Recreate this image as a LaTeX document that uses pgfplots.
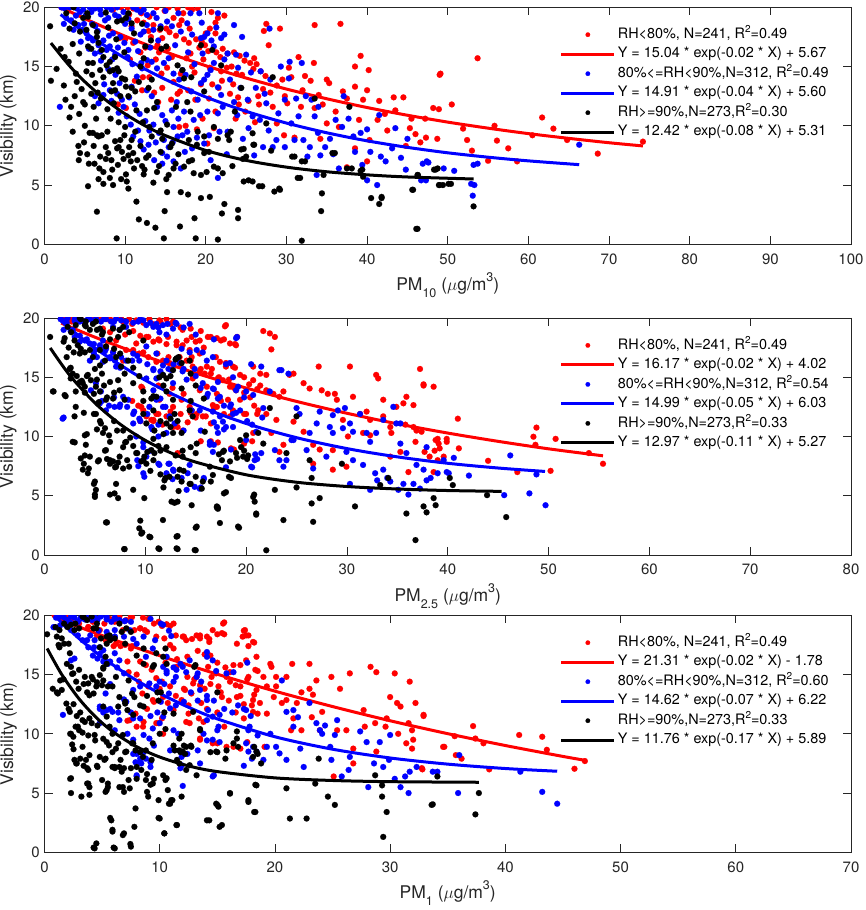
\documentclass[border=0pt]{standalone}
\usepackage{fontspec}
\setmainfont{TeX Gyre Heros}
\usepackage{pgfplots}
\pgfplotsset{compat=1.18}
\definecolor{axgray}{rgb}{0.15,0.15,0.15}
\newcommand{\lsub}[1]{\raisebox{-7pt}{\fontsize{12.5}{14}\selectfont #1}}
\newcommand{\lsup}[1]{\raisebox{9pt}{\fontsize{12.5}{14}\selectfont #1}}
\newcommand{\Rsq}{R\raisebox{5.5pt}{\fontsize{10}{12}\selectfont 2}}
\pgfplotsset{
  base/.style={
    scale only axis, width=806.5pt, height=237pt,
    ymin=0, ymax=20, ytick={0,5,10,15,20},
    tick align=inside, major tick length=8pt, tick pos=both,
    axis line style={line width=0.8pt, draw=axgray},
    every tick/.style={line width=0.8pt, draw=axgray},
    ticklabel style={font=\fontsize{15}{18}\selectfont, text=axgray},
    xticklabel style={anchor=north, inner sep=0pt, yshift=-9pt},
    yticklabel style={anchor=east, inner sep=0pt, xshift=-4.5pt},
    /pgf/number format/assume math mode=true,
    label style={font=\fontsize{17.5}{21}\selectfont, text=axgray},
    ylabel style={at={(axis description cs:-0.0446,0.5)}, anchor=center},
    xlabel style={at={(axis description cs:0.5,-0.195)}, anchor=base},
    ylabel={Visibility (km)},
    clip marker paths=true,
    legend cell align=left,
    legend style={draw=none, fill=none, at={(0.639,0.915)}, anchor=north west,
      inner sep=0pt, outer sep=0pt, row sep=5pt,
      font=\fontsize{14.4}{17}\selectfont,
      nodes={inner xsep=2pt, inner ysep=0pt, text height=11pt, text depth=3.5pt}},
  },
  dotsty/.style={only marks, mark=*, mark size=3pt, mark options={line width=0.1pt},
    legend image code/.code={\draw[##1,mark size=2.3pt] plot coordinates {(26.5pt,0pt)};}},
  fitsty/.style={no marks, line width=3pt, smooth,
    legend image code/.code={\draw[##1] (0pt,0pt) -- (53pt,0pt);}},
}
\begin{document}
\begin{tikzpicture}
\useasboundingbox (0,0) rectangle (865pt,910pt);
\fill[white] (0,0) rectangle (865pt,910pt);
% ---------------- Panel 1 : PM10
\begin{axis}[base, at={(44.5pt,665.7pt)}, anchor=south west,
  xmin=0, xmax=100, xtick={0,10,...,100},
  xlabel={PM\lsub{10} ($\mu$g/m\lsup{3})}]
\addplot[dotsty, color=red] coordinates {
(2.1,20)(8.5,19.8)(11,19.9)(12,19.5)(14.9,19.7)(16.5,19.9)(17.2,19.5)(18.3,19.8)(16,19.1)(17,18.9)(13,19.2)(10.5,19.4)(11.5,18.9)(12.3,18.7)(13.5,18.5)(14.3,18.1)(15.1,18.2)(16.7,18.5)(18,18.2)(20,17.8)(20.5,18.2)(21.2,18.7)(21.5,19.1)(22.3,19.3)(21.2,17.8)(19.5,17.1)(15.5,17.9)(13.2,17.5)(11,17)(10,17.3)(9.3,17.4)(12.5,16.6)(14.2,16.2)(15.8,15.8)(17.6,15.7)(18.1,16.1)(19.7,15.6)(20.3,16.3)(21.3,16.2)(22.1,16.5)(22.7,16.1)(23.5,16.2)(24.8,15.5)(25.5,15.3)(26,15.7)(26.3,15.2)(27.5,18.6)(27.2,18.0)(29.2,18.2)(31.5,15.8)(33.5,18.5)(36.7,18.6)(38.5,15)(39.2,15.9)(40.2,14.7)(43.3,12.4)(44.5,12.4)(49,14.3)(48.9,11.4)(41.5,12.1)(40,13)(38.5,13.3)(39.5,12.2)(37.5,12.3)(35.3,13.6)(35,13.9)(33,13.8)(33.4,15.3)(32.3,14.2)(30.3,14.9)(30.6,14.1)(29.5,13.9)(28.8,13.4)(28,12.8)(27.1,13.1)(26.5,12.5)(25.3,12.1)(24,12.4)(23.4,13.5)(23,12.7)(22,13.8)(21.6,13.2)(20.8,13.5)(20.4,12.3)(19.4,13.5)(18.6,14.5)(17.8,13)(16.8,12.9)(16.5,12.7)(15.7,12.2)(16,13.7)(14.6,13.2)(13.6,12.8)(13,14.1)(12.2,14.1)(11.2,13.8)(10.1,11.5)(9.1,11.8)(16.7,9.9)(17.5,10)(18.9,9.7)(20.2,8.5)(21,9.8)(19.6,10.6)(24.1,11.8)(24.9,11.2)(26.6,11.8)(28.8,10.2)(29.7,9.2)(31,9)(33.5,11.5)(34.2,8.9)(35,10.2)(36.5,9.9)(37.5,6.5)(38.5,8.1)(39,10.5)(40,7)(40.3,8.8)(41.3,10.5)(42.2,11)(43.5,11.3)(44.8,8.3)(45.3,9.8)(46,9.3)(47.3,9.0)(45.5,10.6)(53.7,15.7)(49.1,14.4)(48.2,11.5)(47.2,10.6)(48.7,8.9)(51.9,9.76)(53.0,7.9)(55,7.05)(55.8,10.0)(56.1,8.75)(58.6,7.0)(60.5,9.2)(61.7,10.7)(63.1,9.76)(68.6,7.65)(74.2,8.66)(9.5,20)(10.3,20)(13.9,20)(15.4,20)(17.8,20)(19,19.9)(20.7,19.6)(11.8,19.9)(14,16.8)(18.8,17.3)(19.2,16.6)(23.8,14.4)(21.9,14.6)(20.5,14.9)(22.6,14.9)(26.8,14.6)(24.5,14.3)(27.8,16.8)(34.5,11.8)(37,12.9)(29.8,12.5)(31.8,11.6)(14.5,14.4)(12.8,15.1)(15.3,16.5)(17.3,17.3)
(10.8,18.4)(12.9,18.0)(14.6,17.4)(16.3,17.6)(17.9,17.0)(19.9,16.8)(21.8,15.8)(23.2,15.0)(24.2,15.9)(25.9,14.8)(27.4,14.2)(18.3,15.0)(16.9,14.4)(15.2,14.9)(13.8,15.6)(11.9,16.2)(10.6,15.6)(12.1,13.0)(14.1,12.0)(18.7,12.2)(21.2,11.2)(23.7,10.6)(26.1,10.3)(28.3,11.6)(30.1,11.9)(32,13)(34,12.6)(36.1,11.2)(42.5,9.6)(46.6,8.6)(50.5,11.8)(52.4,8.8)(57.5,8.1)(64.8,8.8)
};
\addlegendentry{RH<80\%, N=241, \Rsq=0.49}
\addplot[fitsty, color=red] coordinates {(2,20.02)(5,19.04)(10,17.56)(15,16.24)(20,15.07)(25,14.03)(30,13.10)(35,12.28)(40,11.54)(45,10.89)(50,10.31)(55,9.80)(60,9.34)(65,8.94)(70,8.57)(74.2,8.30)};
\addlegendentry{Y = 15.04 * exp(-0.02 * X) + 5.67}
\addplot[dotsty, color=blue] coordinates {
(2.1,20)(2.5,19.9)(3.1,20)(4,19.9)(4.4,19.6)(4.8,19.8)(5.6,20)(6.25,19.9)(6.9,19.8)(7.7,20)(8.3,19.8)(9,20)(8.75,19.35)(11,20)(11.45,19.8)(11.9,19.6)(12.3,19.8)(12.7,19.35)(13.5,19.5)(18.1,19.5)(19.2,19.5)(21.5,19.5)(2.7,19.1)(3.3,18.9)(4.2,18.5)(4.7,18.1)(5.2,17.8)(5.4,17.4)(6,17.2)(6.7,16.8)(6.25,16.1)(6.9,16.25)(7.3,17.2)(7.7,16.4)(8.1,16.7)(8.75,16.0)(8.5,17.8)(9.4,17.5)(9.9,17.0)(10.4,16.4)(11.25,17.1)(11.9,17.7)(12.3,17.95)(12.7,18.5)(13.5,18.1)(14.4,18.4)(15.2,18.8)(15.8,18.4)(16.9,17.95)(17.7,18.65)(18.3,17.7)(19.4,17.4)(19.8,17.5)(20.2,17.8)(20.7,17.2)(21.9,17.4)(21,16.7)(22.7,16.1)(23.75,16.0)(25,16.0)(1.9,11.6)(6.25,12.5)(6.7,11.9)(7.3,12.6)(8.1,13.0)(9,12.7)(9.6,12.2)(9.8,11.6)(10.2,10.8)(10.8,13.3)(11.45,14.15)(12.1,14.85)(12.7,15.55)(13.3,15.4)(13.95,14.85)(14.8,15.3)(15.4,15.7)(16,14.4)(16.7,13.9)(17.1,14.7)(17.5,14.3)(12.7,13.0)(13.3,12.5)(13.95,11.6)(14.6,10.9)(13.5,10.1)(14.8,8.8)(15.4,8.2)(16,9.9)(16.5,9.1)(17.1,9.2)(17.7,9.5)(18.3,8.1)(14.6,7.7)(15.2,7.4)(14.6,6.8)(16,7.0)(16.9,6.4)(12.3,8.0)(11.9,8.7)(11,9.1)(19,12.2)(19.4,13.6)(19.8,13.9)(20.2,14.3)(20.6,14.7)(21,15.3)(21.5,13.25)(21.9,12.6)(21.5,11.05)(22.1,11.6)(20.2,11.2)(20.4,9.2)(19.8,8.5)(21.7,9.5)(20.6,7.1)(21.5,5.6)(22.7,9.5)(23.5,12.0)(24.3,13.2)(25.2,12.2)(25.3,9.8)(25.8,10.8)(26,7.5)(26.7,10.5)(26.8,14.6)(27.1,8.2)(27.5,11.9)(27.9,18.2)(28.3,8.2)(28.75,8.8)(29,11.05)(29.3,15.0)(29.8,12.2)(29.8,8.2)(30.3,14.0)(30.4,15.4)(30.6,10.2)(31,8.8)(31.5,10.8)(31.9,15.3)(32.1,8.8)(32.4,12.5)(32.6,7.4)(32.9,8.2)(33.1,12.2)(33.5,10.8)(33.75,5.85)(33.96,11.6)(34.2,7.5)(34.8,8.2)(35.4,8.9)(36.1,10.5)(36.5,6.4)(36.9,9.9)(37.1,12.5)(37.7,10.6)(38.5,7.8)(39.2,9.4)(39.4,6.7)(40,9.7)(40,5.4)(40.4,7.8)(41.25,5.0)(41.5,10.9)(41.7,7.4)(42.3,7.0)(43.5,9.8)(45,8.9)(44.8,6.3)(46.7,5.4)(46.9,6.8)(47.4,7.0)(66.3,8.4)(53.2,6.7)(53.7,6.8)(47.6,6.9)(47.3,5.4)(52.9,5.1)(53.3,5.0)(53.1,4.1)(49.5,6.4)(5.5,16.5)(7,15.5)(7.9,14.8)(8.8,14.3)(9.3,13.6)(10.5,12.4)(11.2,11.8)(11.8,11.0)(12.5,10.4)(13.0,9.6)(13.8,8.6)(14.2,9.4)(15,10.4)(15.8,11.3)(16.4,12)(17.3,11.2)(18.5,10.5)(8.4,15.6)(10.9,15.2)(11.6,16.3)(13.1,16.6)(14.1,17.2)(16.2,16.8)(17.8,16.2)(18.6,15.2)(19.6,16.1)(22.3,15.6)(23,13.9)(24,14.9)(25.6,14.5)(26.2,13.2)(27.3,12.7)(28,13.9)(4.5,17.1)(3.6,18.1)(5.9,18.6)(6.6,18.0)(7.5,18.9)(10,18.6)(10.8,18.2)(9.2,19.2)(7,19.4)(5.1,19.3)(13.9,19.1)(15,19.7)(16.6,19.5)(19.5,18.7)(23.5,18.5)(24.5,17.5)(21.3,18.3)(22.3,17.7)
(3.9,19.3)(5.8,19.6)(7.9,19.1)(9.8,19.6)(10.4,19.0)(2.4,18.6)(4.9,18.6)(6.3,18.4)(8,17.6)(9.1,16.6)(10.3,15.8)(12,15.3)(7.4,13.5)(8.3,12.1)(9.2,11.1)(10.7,10.1)(11.6,9.6)(12.9,8.4)(13.6,7.1)(15.9,8.6)(17.4,7.8)(18.9,9.0)(19.3,10.9)(18.2,12.9)(16.6,10.6)(23.9,10.9)(24.6,8.9)(22.6,7.6)(27.8,9.6)(31.2,12.3)(33.9,9.4)(35.8,7.6)(38.3,9.1)(43.1,8.1)(44.2,7.3)(50.8,6.2)
};
\addlegendentry{80\%<=RH<90\%,N=312, \Rsq=0.49}
\addplot[fitsty, color=blue] coordinates {(2,19.39)(5,17.87)(10,15.70)(15,13.91)(20,12.43)(25,11.22)(30,10.23)(35,9.41)(40,8.73)(45,8.18)(50,7.72)(55,7.35)(60,7.04)(66.3,6.72)};
\addlegendentry{Y = 14.91 * exp(-0.04 * X) + 5.60}
\addplot[dotsty, color=black] coordinates {
(0.7,18.4)(0.8,13.8)(2.5,15.8)(2.4,13.4)(3,15.4)(3.3,11.6)(3.5,9.5)(3.75,12.5)(4,13.7)(4.2,8.3)(4.25,7.1)(4.4,7.7)(5.4,4.9)(5,10)(4.8,12)(5,11.8)(5.4,15.3)(5.2,14.6)(5.5,6.8)(5.6,9.4)(6,9.4)(6.2,6.8)(6.5,2.75)(6.7,5.5)(6.9,7.4)(6.4,10.6)(6.5,9.2)(6.7,9.1)(7.1,9.2)(7.3,6.1)(7.3,5.1)(7.6,8.2)(7.8,9.5)(8.1,5.6)(7.9,7.7)(8.3,7.1)(8.5,5.0)(8.95,0.5)(9,8.1)(8.75,8.7)(9.2,8.2)(9.4,8.8)(9.6,7.8)(9.8,7.2)(9.9,9.2)(10,9.9)(10.1,5.9)(10.2,5.3)(10.4,4.7)(10.4,7.5)(10.5,8.2)(10.7,7.0)(10.8,8.8)(11,7.7)(11.25,9.5)(11.4,3.6)(11.5,7.1)(11.7,2.1)(11.9,8.3)(12.1,6.6)(12.3,5.9)(12.4,6.3)(12.7,1.8)(12.9,7.5)(13.0,9.9)(13.3,9.1)(13.75,1.4)(13.95,6.1)(14.2,6.6)(14.4,7.8)(14.8,0.5)(14.9,2.8)(15.1,5.5)(15.2,4.4)(15.4,5.85)(15.6,8.2)(15.8,8.5)(16,6.4)(16.25,6.8)(16.8,1.5)(16.9,4.4)(17.3,6.55)(17.8,4.2)(17.9,7.0)(18.3,7.1)(18.5,6.0)(18.6,2.2)(18.75,0.5)(19.4,3.9)(19.4,5.85)(19.8,7.7)(20.5,4.0)(20.4,7.8)(21.0,6.55)(21.5,6.4)(21.5,0.4)(22,2.6)(22.1,6.0)(22.3,3.4)(22.7,9.2)(22.9,8.8)(24,2.9)(24.0,2.2)(24.4,8.0)(24.7,5.3)(25,7.4)(25.8,5.3)(26,8.4)(27,4.9)(27.5,10.2)(28.5,4.45)(29.2,4.6)(31,7.4)(31.9,0.3)(31.7,5.6)(32.3,7.0)(33.5,12.3)(34.4,4.3)(34.3,2.8)(34.6,5.85)(36,7.7)(37.5,6.4)(37.8,11.6)(38.1,6.4)(39.4,6.3)(39.5,5.7)(40.5,3.9)(41.5,3.4)(41.8,4.0)(45.7,4.6)(46.25,5.85)(46.25,1.3)(48.75,6.4)(49.4,5.0)(50.4,5.1)(3.6,20)(2.7,19.5)(3.1,18.2)(3.75,18.65)(4.4,17.95)(4.8,19.1)(5.3,19.5)(5.4,19.2)(6,18.5)(6.5,17.9)(6.7,17.0)(6.5,17.5)(5.8,16.5)(5.4,16.7)(6,15.3)(7.1,16.4)(7.3,15.8)(6.9,14.7)(7.3,14.1)(7.7,15.1)(8.1,15.4)(8.75,15.8)(8.1,14.6)(8.5,14.7)(9,14.85)(9.2,14.6)(8.5,13.6)(8.75,13.0)(9.6,14.0)(10,13.9)(10.1,13.3)(9.4,12.5)(10.4,12.5)(10.8,13.2)(11.25,12.9)(11.7,13.7)(11.9,15.0)(12.3,15.7)(12.5,16.7)(9,18.8)(9.6,18.9)(10.1,19.1)(10.4,19.5)(10.8,18.65)(7.6,19.55)(12.9,13.2)(13.3,13.9)(13.95,12.0)(14.4,18.2)(14.5,16.5)(15.1,16.7)(13.6,11.5)(12.7,11.3)(14.4,9.6)(15.2,10.1)(16.5,15.1)(17.1,14.7)(17.3,14.0)(17.7,12.0)(18.1,11.2)(18.2,14.1)(17.9,8.8)(19,9.5)(19.4,16.8)(19.8,9.1)(21,9.9)(21.5,8.9)(20.8,16.4)(21.9,15.1)(23.1,9.5)(24.4,13.2)(28.3,14.1)(25.8,9.37)(25.9,8.4)(24.7,8.05)(24.6,7.2)(28.1,7.9)(30.7,7.4)(31.9,7.0)(35.7,7.7)(39.2,6.2)(48.5,6.3)(46.3,5.85)(45.6,4.6)(49.0,5.0)(53.2,3.2)(31.4,5.6)(29.1,4.7)(26.6,4.9)(25.3,5.4)(41.8,3.9)(46.1,1.3)(48.3,6.3)(48.9,5.0)(50.1,5.1)(1.5,14.8)(2,16.5)(3.9,14.4)(4.6,13.1)(5.8,12.7)(6.1,11.6)(7,12.3)(7.8,11.4)(8.2,10.6)(8.6,11.9)(9.2,10.3)(4.3,11)(3.1,10.7)(2.6,12.2)(6.3,13.6)(5.9,14.3)
(4.9,8.6)(5.3,7.6)(6.1,8.3)(6.8,6.4)(7.6,7.2)(8.4,6.3)(9.1,6.7)(9.5,5.5)(11.1,6.4)(12.6,7.3)(13.5,5.2)(14.6,8.9)(16.6,7.6)(18.9,8.4)(20.1,6.1)(23.3,6.6)(3.5,16.9)(4.3,16.1)(5.2,18.1)(7.9,18.3)(8.9,17.3)(9.9,16.2)(11.1,17.8)(13.2,17.2)(12.1,18.6)(6.6,12.8)(8.3,12.9)(11.4,11.3)(12.2,10.3)(16.3,11.6)(19.8,12.9)(23.6,11.2)
};
\addlegendentry{RH>=90\%,N=273,\Rsq=0.30}
\addplot[fitsty, color=black] coordinates {(0.8,16.98)(3,15.14)(5,13.72)(7.5,12.23)(10,11.00)(12.5,9.99)(15,9.17)(20,7.92)(25,7.08)(30,6.51)(35,6.12)(40,5.86)(45,5.68)(53.2,5.51)};
\addlegendentry{Y = 12.42 * exp(-0.08 * X) + 5.31}
\end{axis}
% ---------------- Panel 2 : PM2.5
\begin{axis}[base, at={(44.5pt,355pt)}, anchor=south west,
  xmin=0, xmax=80, xtick={0,10,...,80},
  xlabel={PM\lsub{2.5} ($\mu$g/m\lsup{3})}]
\addplot[dotsty, color=red] coordinates {
(1.66,20)(2.15,19.8)(2.65,19.95)(3.6,19.9)(4.6,20)(5.5,19.95)(6,20)(6.5,19.8)(7.6,19.95)(8.4,19.9)(9.1,19.8)(10.4,19.9)(11.4,19.8)(12.1,19.9)(12.75,19.7)(13.7,19.0)(14.6,18.4)(15.4,18.1)(16.2,18.4)(17.1,18.3)(17.5,18.1)(18.4,17.85)(19.0,17.7)(18.0,19.4)(21.7,18.9)(22.35,18.7)(22.85,18.4)(22.5,17.35)(10.1,18.4)(10.8,18.0)(11.4,18.1)(12.25,18.4)(13.1,18.0)(13.7,17.7)(14.4,17.3)(9.1,17.85)(8.8,17.3)(9.4,17.0)(10.3,16.7)(11.1,16.3)(11.75,16.4)(12.4,16.2)(13.4,16.7)(14.1,16.4)(14.7,15.9)(15.4,15.5)(16.1,15.9)(16.6,15.7)(17.4,16.3)(18.0,16.2)(18.7,15.9)(19.4,15.2)(17.2,14.9)(17.7,14.75)(18.4,14.2)(19.0,13.9)(20.7,15.9)(21.4,15.3)(22.0,15.2)(20.7,14.75)(21.4,14.3)(22.0,13.9)(22.7,13.6)(23.3,13.35)(23.7,13.8)(24.3,15.2)(24.7,15.3)(25.7,14.5)(26.3,14.05)(27.2,15.9)(27.5,13.9)(28.1,13.6)(28.8,13.6)(29.0,13.1)(30.3,15.9)(30.6,13.35)(31.3,11.9)(31.95,12.1)(32.3,11.4)(32.9,15.2)(33.1,14.9)(33.6,13.1)(34.3,10.8)(34.4,10.3)(34.9,12.5)(35.6,12.8)(35.8,11.0)(35.9,13.35)(36.6,10.8)(36.8,9.55)(36.9,10.5)(37.25,15.7)(37.6,14.3)(38.6,14.2)(39.2,9.0)(39.9,9.55)(39.6,8.3)(39.0,8.0)(38.6,7.0)(37.7,8.7)(36.1,7.0)(37.4,10.4)(36.6,12.65)(35.3,8.7)(34.3,8.3)(33.6,11.7)(32.3,10.1)(31.6,10.3)(30.1,10.0)(29.95,7.45)(28.6,7.2)(27.3,8.9)(26.65,9.3)(26.65,7.7)(28.6,8.85)(29.6,11.4)(25.7,10.4)(24.7,11.25)(23.7,9.3)(23.0,11.4)(23.3,8.7)(22.5,10.3)(20.7,10.3)(21.2,12.2)(22.0,11.9)(20.0,11.9)(19.4,13.1)(18.7,12.1)(18.2,13.1)(17.4,13.1)(16.7,12.65)(17.1,13.6)(18.4,11.7)(17.1,12.5)(16.5,11.1)(15.7,11.7)(15.1,11.9)(14.4,12.5)(13.6,13.1)(12.75,12.5)(12.4,13.6)(11.4,13.1)(11.1,11.9)(10.6,11.4)(10.1,11.7)(9.6,14.2)(9.6,12.5)(10.8,11.4)(12.1,11.7)(12.75,10.8)(13.7,10.5)(14.6,12.2)(15.4,13.9)(16.1,14.2)(15.9,15.3)(14.7,14.9)(15.4,17.0)(14.6,16.7)(5.8,19.1)(6.5,18.8)(7.1,18.1)(8.1,17.3)(6.8,17.1)(6.1,17.6)(7.8,16.4)(18.5,9.0)(37.6,14.4)(41.0,11.5)(38.2,8.3)(38.7,8.8)(38.8,9.7)(39.0,9.8)(39.1,9.4)(39.9,9.8)(41.1,9.0)(44.0,7.95)(46.9,7.0)(48.5,9.98)(48.8,10.75)(48.7,9.3)(50.2,7.1)(50.7,9.8)(54.0,8.6)(55.4,7.7)
(1.9,19.9)(2.7,19.7)(5.0,19.7)(6.5,19.9)(7.8,19.7)(8.7,19.5)(9.8,19.6)(10.7,19.5)(11.5,19.7)(12.5,19.5)(13.5,19.2)(14.5,19.1)(15.5,18.9)(16.5,18.4)(17.8,18.2)(17.9,19.3)(19.1,18.4)(18.9,17.8)(15.8,17.5)(15.0,18.0)(14.1,18.1)(13.1,17.7)(12.1,17.8)(11.3,18.2)(10.3,18.4)(9.5,18.5)(8.8,18.9)(8.0,18.6)(9.8,17.1)(11.2,17.0)(12.3,16.7)(13.5,16.1)(14.5,16.4)(15.5,15.7)(16.5,15.3)(17.3,15.0)(18.3,14.8)(18.8,14.1)(19.8,13.7)(20.4,13.3)(21.1,14.0)(20.3,14.4)(19.8,15.0)(18.9,15.8)(18.0,15.9)(17.0,16.7)(17.5,13.0)(16.8,12.4)(17.8,11.9)(18.7,12.2)(19.8,11.9)(20.8,12.6)(21.1,11.9)(16.0,11.7)(15.0,11.6)(14.5,12.0)(13.5,11.9)(12.5,12.1)(11.3,11.9)(9.8,12.2)(9.3,12.6)(8.7,13.0)(9.7,14.1)(11.3,14.3)(12.7,14.1)(13.8,13.6)(10.8,11.3)(11.7,11.0)(13.2,10.8)(14.2,11.2)(15.5,9.6)(16.5,9.6)(17.2,9.5)(18.8,8.9)(19.8,9.4)(20.6,9.6)(13.2,8.6)(9.5,11.3)
};
\addlegendentry{RH<80\%, N=241, \Rsq=0.49}
\addplot[fitsty, color=red] coordinates {(1.66,19.57)(5,18.38)(10,16.78)(15,15.35)(20,14.09)(25,12.96)(30,11.96)(35,11.07)(40,10.29)(45,9.59)(50,8.96)(55.4,8.37)};
\addlegendentry{Y = 16.17 * exp(-0.02 * X) + 4.02}
\addplot[dotsty, color=blue] coordinates {
(1.8,19.8)(2.15,19.6)(2.3,20)(3.0,19.75)(3.5,19.7)(4.0,19.6)(4.3,19.9)(4.8,19.7)(5.1,19.95)(5.6,19.7)(6.1,19.9)(6.6,19.7)(7.1,19.95)(7.6,19.8)(8.1,19.7)(8.8,19.6)(9.3,19.7)(9.8,19.8)(11.1,19.5)(11.75,19.4)(13.1,19.5)(14.4,19.5)(12.75,19.1)(12.1,18.6)(11.4,18.8)(10.8,19.25)(10.1,19.4)(8.1,19.25)(7.45,19.0)(6.8,19.25)(2.8,19.0)(3.5,18.5)(4.0,18.1)(4.5,17.85)(5.0,17.3)(5.5,17.7)(5.8,18.1)(6.1,17.4)(6.8,17.1)(6.5,16.6)(5.8,16.3)(7.1,15.9)(7.6,16.7)(8.1,16.4)(8.8,17.0)(9.4,16.4)(10.1,17.6)(11.1,17.0)(12.1,16.4)(12.6,15.6)(13.4,16.2)(13.7,15.5)(11.75,16.0)(10.8,15.6)(10.1,14.9)(11.1,14.9)(11.75,15.2)(12.75,14.5)(13.6,17.4)(14.4,17.1)(15.1,17.3)(15.7,17.1)(16.1,16.4)(16.7,16.7)(14.9,15.7)(15.7,14.5)(16.7,14.05)(17.4,13.35)(18.4,16.2)(19.0,18.3)(18.7,15.0)(19.2,14.2)(18.4,12.5)(18.7,11.9)(18.0,10.8)(17.7,11.25)(17.1,10.8)(16.4,9.55)(16.4,9.3)(16.7,8.7)(15.8,6.5)(15.4,5.6)(14.4,7.6)(14.2,6.9)(13.6,6.5)(12.75,7.2)(12.4,7.7)(11.4,7.6)(12.1,6.9)(9.9,6.6)(10.1,8.3)(9.8,9.1)(9.1,10.0)(8.8,11.1)(9.4,11.5)(10.4,12.5)(11.1,13.1)(11.75,12.5)(12.4,11.7)(12.9,11.1)(12.1,10.3)(11.3,10.0)(10.6,10.8)(8.8,11.9)(8.3,13.1)(7.8,13.35)(7.45,12.5)(6.95,12.5)(6.1,12.2)(5.5,12.8)(4.6,13.9)(5.1,14.5)(5.6,13.8)(1.8,11.5)(14.1,5.5)(14.9,5.75)(14.6,12.2)(15.4,12.2)(16.1,13.35)(16.7,12.1)(17.4,11.7)(18.7,10.8)(19.4,12.2)(20.0,13.8)(20.7,13.5)(20.0,9.7)(20.5,7.45)(20.85,8.0)(21.0,10.4)(21.5,8.6)(21.7,12.4)(22.35,13.8)(22.85,8.85)(23.3,15.6)(23.7,7.45)(24.0,8.0)(24.5,9.7)(25.0,12.4)(25.3,11.9)(26.0,8.85)(26.65,7.3)(27.0,11.1)(27.3,12.1)(27.96,8.3)(28.3,10.8)(28.6,10.3)(29.1,12.2)(29.6,10.7)(29.95,8.7)(30.3,11.1)(30.6,10.4)(30.6,8.0)(31.6,7.6)(31.95,10.3)(32.3,9.55)(32.8,6.9)(33.0,6.3)(33.6,7.2)(34.0,6.5)(34.3,6.2)(35.1,5.5)(35.6,6.0)(36.1,5.1)(36.6,6.0)(37.25,5.6)(32.3,5.5)(30.3,6.0)(35.3,9.4)(35.9,8.6)(36.9,7.6)(37.6,7.2)(38.3,6.5)(39.0,6.9)(39.9,7.0)(39.6,8.0)(37.9,9.1)(35.3,11.1)(33.6,11.4)(34.6,12.5)(34.9,11.1)(32.9,10.3)(31.3,11.9)(29.8,12.4)(28.6,11.8)(26.3,10.3)(24.7,9.7)(23.3,8.0)(24.2,15.3)(23.5,15.6)(40.6,8.2)(40.1,6.9)(42.1,6.7)(37.9,6.3)(46.2,8.4)(48.8,6.8)(48.1,5.2)(49.7,4.2)(45.6,5.05)
(1.6,19.9)(2.2,19.6)(3.0,19.9)(3.9,19.7)(4.5,19.9)(5.9,19.9)(6.9,19.7)(9.5,19.9)(10.5,19.6)(11.3,19.2)(12.2,19.5)(13.0,19.6)(13.8,19.2)(15.0,18.6)(16.8,18.2)(19.1,18.4)(1.9,19.0)(2.6,18.9)(3.0,18.4)(3.5,18.0)(4.2,18.2)(4.9,17.8)(5.5,17.5)(6.0,17.2)(6.5,16.7)(7.0,16.4)(7.5,15.8)(4.9,17.0)(4.5,16.4)(5.2,16.7)(8.7,16.4)(9.2,16.8)(10.2,16.1)(10.8,15.7)(11.5,15.5)(12.3,15.7)(12.8,16.1)(13.8,15.7)(14.1,14.8)(15.0,15.1)(15.5,14.1)(16.2,13.6)(16.8,14.0)(17.2,13.2)(17.8,12.6)(18.5,12.7)(19.0,12.0)(20.1,11.3)(20.6,11.0)(21.6,11.6)(10.8,13.9)(11.5,13.2)(12.0,12.5)(11.3,11.0)(10.7,10.6)(10.2,11.9)(8.9,12.1)(8.2,12.5)(7.5,12.7)(6.9,13.3)(6.4,12.6)(5.7,13.0)(1.9,11.6)(9.5,11.3)(9.8,9.5)(9.2,8.0)(9.3,7.5)(9.8,6.9)(10.5,8.8)(11.3,7.7)(12.3,7.7)(12.7,6.4)(12.8,7.1)(13.8,10.5)(15.5,10.5)(16.8,11.2)(17.2,10.3)(17.8,10.6)(18.5,8.9)(20.9,8.5)(21.1,8.1)(20.6,7.4)(18.0,7.4)(15.8,6.4)(15.5,5.7)(16.8,9.3)(18.0,16.1)(17.2,14.6)(19.0,13.9)(19.8,13.3)(20.5,16.1)(21.5,15.9)
};
\addlegendentry{80\%<=RH<90\%,N=312, \Rsq=0.54}
\addplot[fitsty, color=blue] coordinates {(1.7,19.70)(5,17.46)(10,14.75)(15,12.68)(20,11.10)(25,9.90)(30,8.98)(35,8.28)(40,7.74)(45,7.34)(49.65,7.05)};
\addlegendentry{Y = 14.99 * exp(-0.05 * X) + 6.03}
\addplot[dotsty, color=black] coordinates {
(0.56,18.4)(0.83,13.8)(2.0,18.3)(2.0,13.5)(2.3,19.25)(2.65,18.8)(3.1,19.4)(3.5,20)(4.0,19.4)(4.1,19.7)(4.8,19.5)(4.5,19.0)(5.1,19.7)(5.5,19.1)(2.98,18.1)(3.3,17.7)(3.6,17.4)(4.0,17.1)(4.5,17.3)(4.8,16.7)(5.5,17.3)(5.8,18.8)(6.8,19.1)(7.45,19.0)(7.8,19.25)(8.4,18.8)(9.8,18.1)(2.5,15.7)(2.8,15.3)(2.6,14.9)(3.5,14.6)(3.8,14.5)(4.0,14.2)(4.3,15.2)(4.6,14.75)(5.1,14.2)(5.5,13.8)(5.3,12.8)(5.1,11.9)(3.1,12.5)(2.98,11.7)(2.8,9.55)(3.6,8.15)(3.8,7.2)(4.1,9.3)(4.3,6.9)(4.0,10.1)(4.5,8.3)(5.0,6.2)(5.1,5.5)(5.0,4.9)(5.3,7.9)(5.6,11.1)(5.8,10.3)(6.1,8.85)(6.1,2.75)(6.5,9.55)(6.5,8.0)(6.8,7.9)(7.1,7.45)(7.45,8.3)(6.5,5.1)(6.95,5.2)(7.3,4.8)(7.1,6.0)(7.8,9.1)(7.95,0.5)(8.1,9.55)(8.4,7.45)(8.8,5.5)(9.1,8.6)(9.4,2.25)(9.6,1.8)(9.6,7.9)(9.9,4.8)(10.1,7.7)(10.4,1.55)(10.6,8.85)(10.9,8.6)(10.9,10.5)(11.3,0.56)(11.75,2.95)(11.9,6.3)(12.1,9.1)(12.4,6.6)(12.9,4.4)(13.1,1.55)(13.1,0.56)(13.4,7.2)(13.6,6.2)(13.7,8.3)(14.4,6.0)(14.6,4.2)(14.9,0.42)(15.1,2.4)(15.7,6.2)(16.4,7.45)(16.7,6.75)(17.1,4.1)(17.2,3.9)(17.4,2.7)(17.6,8.0)(17.7,8.7)(18.4,7.9)(18.5,6.5)(19.0,8.6)(19.2,2.4)(19.5,9.1)(19.7,8.3)(20.2,8.4)(20.7,4.9)(20.85,4.5)(21.0,3.4)(21.7,9.4)(22.0,0.4)(22.85,5.5)(23.7,2.95)(24.0,8.6)(25.0,5.7)(26.3,8.0)(26.5,4.35)(26.5,6.5)(26.65,2.8)(27.3,4.8)(29.5,7.7)(30.8,4.1)(33.3,5.9)(34.1,6.5)(35.9,3.5)(36.8,1.26)(37.6,4.1)(38.6,4.8)(40.2,6.5)(6.1,17.6)(7.1,16.7)(7.6,15.9)(7.95,15.3)(7.3,14.75)(7.45,13.9)(6.8,13.2)(6.1,13.1)(7.95,13.1)(8.8,14.5)(9.8,13.8)(9.8,11.9)(10.1,11.1)(10.6,13.2)(11.1,13.35)(11.4,15.0)(11.75,15.2)(12.1,14.9)(12.75,15.6)(13.1,16.6)(13.6,16.2)(14.4,16.4)(12.1,13.8)(12.75,13.1)(12.9,11.9)(13.6,10.3)(14.4,12.2)(14.7,11.7)(12.75,10.3)(12.1,11.1)(13.6,14.05)(15.1,9.4)(15.9,10.4)(19.4,9.7)(20.0,10.1)(21.2,10.3)(22.35,12.4)(25.0,11.7)(9.9,8.3)(37.9,3.6)(38.8,4.2)(40.5,5.9)(43.9,5.05)(45.8,3.2)
(1.9,18.0)(2.4,17.5)(2.9,17.1)(3.5,17.0)(2.2,16.7)(2.6,15.8)(3.2,15.1)(3.7,14.7)(4.2,15.1)(5.0,15.7)(5.5,16.0)(6.0,16.4)(5.7,15.3)(5.2,14.8)(5.9,14.3)(6.5,14.6)(6.9,13.7)(6.2,13.3)(5.4,12.9)(4.9,13.6)(4.0,13.7)(3.1,13.8)(0.9,13.8)(2.1,13.4)(3.9,12.0)(4.9,11.9)(5.5,11.3)(6.0,10.7)(6.9,11.3)(7.2,10.5)(6.4,10.1)(5.2,10.6)(4.2,10.2)(3.0,9.5)(4.0,8.4)(3.9,7.7)(4.4,7.3)(4.9,6.0)(5.0,5.1)(5.4,8.0)(6.0,8.8)(6.2,8.1)(6.5,7.7)(7.0,7.4)(7.3,7.8)(7.8,7.3)(8.2,8.0)(8.0,9.5)(8.5,9.9)(8.8,9.2)(7.8,10.5)(9.2,8.6)(9.8,8.0)(10.2,8.7)(10.8,8.0)(10.5,7.1)(11.5,6.8)(12.0,6.5)(11.8,5.7)(12.6,4.5)(13.2,4.5)(13.3,5.4)(13.2,6.6)(13.8,7.1)(15.0,6.6)(14.5,6.0)(15.6,5.6)(16.5,6.2)(17.1,4.0)(18.0,5.3)(18.3,6.6)(19.1,8.2)(19.8,8.8)(20.1,8.1)(17.3,8.5)(17.8,8.8)(15.0,8.6)(14.5,9.1)(13.7,8.8)(13.0,8.4)(11.5,8.8)(11.3,9.2)(10.8,9.8)(11.8,10.2)(12.5,10.8)(13.2,11.3)(12.5,11.5)(11.5,11.3)(10.8,12.2)(9.8,13.0)(10.8,13.4)(11.8,14.3)(12.5,15.1)(13.0,16.5)(13.3,16.7)(14.5,15.3)(15.0,14.3)(15.8,13.2)(14.5,13.0)(9.4,15.1)(8.8,15.8)(8.3,16.4)(7.5,17.0)(6.9,17.4)(6.5,18.2)(7.3,18.4)(5.7,18.6)(5.2,19.0)(4.1,19.3)(3.6,19.9)(9.5,2.9)(6.2,2.75)(9.7,1.9)(10.5,1.5)(13.2,1.6)(15.0,2.3)(17.2,4.0)(17.8,5.2)(19.3,2.3)(20.8,5.1)(21.0,3.5)(7.9,0.5)(11.4,0.5)(13.2,0.5)(15.0,0.4)
};
\addlegendentry{RH>=90\%,N=273,\Rsq=0.33}
\addplot[fitsty, color=black] coordinates {(0.57,17.47)(2.5,15.17)(5,12.83)(7.5,11.04)(10,9.67)(12.5,8.63)(15,7.84)(20,6.77)(25,6.14)(30,5.78)(35,5.57)(40,5.44)(45.35,5.37)};
\addlegendentry{Y = 12.97 * exp(-0.11 * X) + 5.27}
\end{axis}
% ---------------- Panel 3 : PM1
\begin{axis}[base, at={(44.5pt,57.7pt)}, anchor=south west,
  xmin=0, xmax=70, xtick={0,10,...,70},
  xlabel={PM\lsub{1} ($\mu$g/m\lsup{3})}]
\addplot[dotsty, color=red] coordinates {
(0.87,20)(1.45,19.8)(1.9,19.9)(2.3,19.6)(3.0,19.3)(3.8,19.0)(4.2,19.45)(4.8,18.75)(5.2,19.3)(5.65,19.7)(6.1,19.45)(6.5,19.9)(6.8,18.75)(7.1,19.6)(7.5,19.9)(7.8,18.75)(8.3,18.9)(8.7,18.75)(8.55,19.8)(9.0,19.7)(9.9,19.45)(10.6,19.25)(11.2,19.3)(9.7,18.2)(10.4,18.05)(10.9,17.5)(11.2,17.2)(12.0,18.2)(12.3,17.9)(13.2,18.3)(13.5,18.05)(14.1,18.2)(14.6,18.75)(14.3,17.75)(15.4,18.5)(15.5,19.3)(16.7,17.6)(17.4,18.75)(17.7,18.3)(17.2,18.2)(18.1,17.75)(17.5,16.2)(17.7,14.8)(18.3,15.4)(18.4,13.7)(19.0,14.8)(19.6,15.9)(19.7,15.65)(19.3,14.0)(20.1,14.0)(20.6,12.6)(21.0,14.8)(21.5,15.9)(21.9,12.6)(22.3,13.5)(23.0,13.8)(23.0,15.9)(23.3,13.3)(23.6,14.5)(24.1,11.85)(24.9,14.8)(25.4,10.3)(25.65,13.8)(26.2,10.3)(26.5,15.1)(26.8,8.75)(27.7,12.0)(27.8,10.6)(28.3,15.65)(28.7,10.9)(28.8,8.5)(29.6,10.6)(29.7,11.3)(30.0,13.1)(30.4,15.1)(30.6,12.6)(30.7,10.0)(30.9,12.3)(31.4,9.2)(31.6,10.9)(31.7,14.4)(31.9,10.3)(32.0,9.5)(31.9,8.75)(32.2,12.6)(32.9,11.6)(32.75,7.1)(34.6,8.9)(25.1,6.4)(26.8,7.5)(28.8,15.2)(6.2,17.6)(7.0,17.5)(7.5,17.2)(8.3,16.1)(8.8,15.8)(9.3,15.4)(9.7,14.7)(10.0,13.8)(10.3,13.1)(10.7,12.6)(11.2,12.0)(11.9,12.85)(12.2,13.7)(12.5,12.4)(12.75,13.4)(13.6,12.6)(13.9,13.8)(14.2,15.65)(14.5,14.8)(14.9,15.1)(15.1,14.0)(15.4,13.1)(15.8,14.8)(16.1,14.4)(16.7,13.1)(17.0,14.0)(13.5,9.5)(12.6,10.9)(12.3,11.0)(13.8,11.0)(14.6,9.2)(7.4,11.15)(8.0,10.6)(8.55,10.6)(9.7,10.9)(10.3,10.0)(9.4,12.85)(9.0,14.0)(18.1,12.85)(18.1,11.85)(18.7,12.6)(19.3,11.7)(19.9,13.1)(21.0,12.85)(21.4,10.3)(21.6,11.3)(22.3,10.3)(23.2,11.4)(23.9,10.3)(19.1,8.9)(17.0,8.75)(15.8,8.9)(20.1,14.8)(18.4,16.5)(16.4,15.8)(13.2,14.8)(12.9,14.25)(11.45,15.65)(32.9,11.5)(34.7,8.9)(35.6,9.8)(35.7,8.2)(36.2,7.9)(37.2,10.65)(37.4,9.6)(38.1,9.2)(38.6,7.0)(32.8,7.0)(41.2,9.9)(43.2,9.75)(43.6,8.65)(46.0,7.05)(46.9,7.7)
(1.07,19.85)(1.65,19.7)(7.6,19.85)(8.3,18.9)(8.9,18.6)(9.5,19.3)(10.2,19.1)(10.9,19.1)(11.4,18.3)(12.1,18.2)(12.8,18.0)(13.5,18.3)(14.3,18.0)(15.0,18.4)(15.6,19.4)(15.6,18.4)(17.3,18.7)(17.5,18.3)(18.2,17.7)(17.7,17.4)(13.3,17.0)(13.9,16.7)(14.4,16.6)(15.0,16.0)(15.7,15.6)(16.1,15.2)(17.0,15.8)(17.6,14.6)(18.5,15.3)(16.6,14.1)(17.0,13.2)(16.0,12.8)(15.3,13.5)(14.4,14.2)(13.5,14.1)(13.0,14.6)(12.4,14.8)(12.1,13.8)(11.4,13.2)(10.9,14.0)(10.2,14.4)(9.5,12.7)(8.9,12.1)(8.5,13.4)(8.2,14.4)(8.0,15.0)(7.3,15.2)(7.2,16.1)(7.6,17.4)(6.6,17.4)(6.0,17.4)(5.3,17.9)(4.55,18.3)(3.8,19.0)(10.5,16.0)(11.5,16.3)(12.4,16.5)(10.2,11.3)(9.9,10.9)(8.6,11.0)(7.9,11.7)(7.2,11.1)(12.5,11.7)(13.4,11.3)(14.1,12.1)(15.0,11.8)(15.6,10.6)(16.6,11.8)(17.3,12.5)(18.0,12.4)(18.5,11.7)(17.3,11.3)(18.2,13.3)(13.5,9.6)(15.0,9.2)(16.4,8.9)(17.6,9.3)
};
\addlegendentry{RH<80\%, N=241, \Rsq=0.49}
\addplot[fitsty, color=red] coordinates {(0.87,19.81)(5,18.29)(10,16.59)(15,15.03)(20,13.60)(25,12.30)(30,11.10)(35,10.01)(40,9.01)(45,8.09)(47,7.75)};
\addlegendentry{Y = 21.31 * exp(-0.02 * X) - 1.78}
\addplot[dotsty, color=blue] coordinates {
(0.87,19.0)(1.0,19.8)(1.3,19.9)(1.7,19.8)(2.0,19.6)(2.3,19.9)(2.6,19.8)(2.9,19.45)(3.2,19.9)(3.5,19.65)(3.8,19.9)(4.1,19.6)(4.35,19.8)(4.6,19.6)(4.9,19.9)(5.4,19.65)(5.8,19.45)(6.1,19.8)(6.5,19.6)(6.95,19.5)(7.5,19.45)(6.1,18.75)(5.65,18.2)(6.1,18.2)(7.4,18.75)(8.0,17.6)(10.3,19.2)(11.0,18.25)(1.9,19.1)(2.3,18.75)(2.9,18.3)(3.3,17.9)(3.8,17.3)(4.35,17.9)(4.8,17.3)(5.1,17.05)(4.2,16.6)(4.6,16.35)(5.1,16.1)(5.5,15.9)(6.1,16.8)(6.5,16.2)(2.6,16.35)(2.3,16.2)(1.6,11.6)(4.8,12.3)(5.4,12.0)(4.8,10.9)(6.1,10.3)(6.5,11.15)(5.9,11.85)(7.2,10.0)(7.7,9.5)(8.0,8.3)(8.3,7.6)(8.0,6.4)(8.4,7.5)(8.8,7.9)(9.1,9.6)(9.4,10.45)(10.0,10.9)(10.3,11.45)(10.9,12.15)(11.2,10.3)(11.6,10.0)(11.9,7.35)(12.0,5.6)(11.9,8.05)(10.6,16.5)(10.3,15.65)(10.6,15.1)(11.2,14.4)(11.45,15.4)(12.0,15.65)(12.3,15.2)(10.0,14.4)(9.7,14.0)(9.1,14.25)(8.3,14.0)(7.7,13.7)(7.1,12.7)(8.8,16.5)(9.4,17.2)(9.6,17.9)(12.6,16.2)(13.2,14.8)(13.5,13.7)(13.6,14.4)(14.1,12.85)(14.2,12.0)(14.1,11.15)(13.8,10.0)(14.6,11.45)(15.2,11.6)(15.1,10.6)(14.6,9.5)(15.2,9.3)(14.6,6.4)(13.5,7.5)(14.1,16.9)(14.6,16.2)(15.8,15.1)(16.4,15.2)(16.8,12.4)(17.5,12.0)(17.8,10.6)(17.5,9.2)(17.7,8.5)(18.1,8.9)(18.4,8.5)(19.0,7.8)(19.3,8.9)(19.6,10.0)(20.1,8.9)(20.4,8.35)(21.0,7.8)(20.6,14.5)(21.0,11.85)(21.6,12.0)(21.6,10.6)(22.0,11.4)(22.2,8.75)(22.5,7.2)(23.0,12.6)(23.6,10.9)(23.9,10.3)(24.1,10.0)(24.35,10.7)(24.8,8.9)(24.9,7.8)(25.2,9.9)(25.4,11.15)(25.8,6.4)(26.4,6.95)(26.5,8.05)(27.4,10.2)(27.96,9.3)(28.1,5.5)(28.6,7.5)(29.1,9.3)(29.4,7.2)(29.9,7.8)(30.0,9.9)(30.4,6.2)(30.9,5.5)(31.3,6.4)(31.7,6.8)(32.3,7.2)(31.6,5.0)(34.1,6.8)(36.0,8.2)(33.7,6.8)(35.9,5.0)(41.3,6.8)(43.2,5.1)(44.5,4.1)
(0.78,19.0)(1.36,19.15)(2.23,19.4)(3.1,19.7)(3.7,19.85)(4.55,19.7)(5.4,19.85)(6.1,19.7)(7.0,19.55)(9.2,19.7)(10.1,19.3)(10.8,18.7)(8.6,18.2)(7.7,18.0)(6.9,18.2)(6.1,18.2)(5.4,18.6)(4.7,18.7)(3.97,18.3)(3.7,17.9)(4.3,17.3)(4.8,16.75)(5.7,16.1)(6.3,15.6)(6.9,15.1)(5.7,14.2)(5.3,13.4)(4.8,12.1)(5.1,11.8)(5.7,12.1)(6.4,11.8)(6.9,12.9)(7.5,11.8)(7.7,11.3)(8.3,11.3)(9.2,11.5)(9.8,11.8)(10.1,12.7)(10.4,14.2)(10.6,15.3)(11.2,15.6)(11.8,15.9)(11.4,14.8)(10.8,13.4)(11.4,12.4)(12.1,12.7)(12.7,13.5)(13.3,12.8)(14.1,13.2)(14.7,12.8)(15.6,12.1)(16.3,11.8)(17.3,12.1)(17.9,11.5)(17.7,10.3)(18.5,9.86)(15.0,10.3)(14.1,9.44)(13.3,8.6)(12.4,8.3)(10.9,8.6)(9.5,9.0)(8.6,8.45)(7.9,7.6)(8.3,7.9)(9.2,7.6)(9.2,7.2)(11.8,7.1)(14.7,6.5)(17.3,7.3)(18.0,7.9)(8.0,6.5)(7.7,8.3)(8.6,9.9)(14.1,16.5)(14.9,15.3)(17.6,16.0)(13.3,15.1)
};
\addlegendentry{80\%<=RH<90\%,N=312, \Rsq=0.60}
\addplot[fitsty, color=blue] coordinates {(1,19.84)(3,18.04)(5,16.47)(7.5,14.80)(10,13.41)(12.5,12.24)(15,11.26)(20,9.75)(25,8.70)(30,7.96)(35,7.44)(40,7.07)(44.5,6.84)};
\addlegendentry{Y = 14.62 * exp(-0.07 * X) + 6.22}
\addplot[dotsty, color=black] coordinates {
(0.23,18.4)(0.72,13.8)(1.16,13.4)(0.96,19.0)(1.3,18.75)(1.5,18.05)(1.7,19.3)(2.0,19.0)(2.3,19.2)(2.6,18.75)(3.0,18.9)(3.3,19.9)(3.7,19.6)(4.1,19.9)(4.5,18.9)(4.9,18.05)(5.4,17.6)(1.3,17.3)(1.7,17.6)(2.2,16.8)(2.3,15.65)(2.5,15.1)(2.75,14.4)(3.0,15.4)(3.5,14.8)(3.8,14.25)(3.9,13.25)(4.2,14.6)(4.5,14.0)(4.8,14.95)(5.1,15.5)(5.4,15.9)(1.9,12.55)(2.2,11.85)(2.3,10.0)(2.5,9.75)(2.6,7.8)(2.75,7.5)(2.9,10.6)(3.0,10.3)(3.3,11.15)(3.3,8.9)(3.6,7.8)(3.8,6.95)(3.2,4.7)(2.3,6.25)(2.3,5.0)(3.9,11.3)(4.1,10.9)(3.9,8.2)(4.35,9.9)(4.6,10.7)(4.6,7.2)(4.8,8.05)(3.8,5.8)(3.9,4.85)(4.5,0.75)(4.35,0.33)(5.1,12.3)(5.4,11.45)(5.4,9.3)(5.4,5.25)(5.5,5.5)(5.2,7.8)(5.8,2.7)(5.9,1.75)(6.1,0.33)(6.1,7.2)(6.2,8.75)(6.4,9.2)(6.5,7.2)(6.7,6.8)(6.8,5.5)(6.8,1.45)(7.1,8.5)(7.4,5.4)(7.5,0.48)(7.7,9.2)(7.8,2.15)(8.0,7.2)(8.4,6.95)(8.55,8.05)(8.8,8.6)(9.0,4.7)(8.8,6.1)(9.3,7.8)(9.4,9.2)(9.4,5.8)(10.0,2.85)(10.3,6.5)(10.4,1.6)(10.6,6.25)(10.7,5.25)(10.9,4.1)(11.0,4.4)(11.45,2.3)(11.7,8.6)(11.9,10.0)(11.9,4.7)(12.0,8.5)(12.3,6.95)(12.6,7.35)(12.75,8.9)(12.9,11.85)(13.0,15.65)(13.2,6.5)(13.5,10.3)(14.1,2.7)(14.9,4.1)(15.1,3.85)(15.2,2.15)(14.9,8.5)(15.8,8.6)(16.1,4.95)(16.4,9.2)(16.7,10.2)(16.8,8.9)(17.7,4.25)(18.1,8.05)(18.3,3.4)(18.4,8.5)(18.4,5.65)(18.8,7.5)(21.0,5.4)(21.3,2.85)(22.75,2.85)(23.5,5.8)(23.8,7.9)(24.6,4.7)(25.2,4.0)(28.7,6.5)(29.3,5.65)(29.3,4.7)(29.4,1.3)(29.7,3.4)(33.6,4.0)(34.1,6.4)(5.65,18.3)(6.1,18.05)(6.5,19.3)(7.1,18.9)(7.5,18.6)(5.1,14.5)(5.5,14.0)(5.9,14.0)(6.2,14.8)(6.5,13.1)(7.0,12.55)(7.2,12.0)(7.7,11.6)(7.8,13.1)(8.3,12.4)(5.65,10.6)(5.9,10.0)(6.8,9.9)(10.3,16.5)(10.6,15.9)(11.2,11.7)(11.3,8.6)(11.7,9.6)(12.3,8.9)(10.0,10.0)(9.7,16.8)(9.4,15.65)(33.7,4.05)(37.4,3.2)(37.7,5.0)
(1.07,18.2)(1.22,17.5)(2.1,17.6)(1.94,15.9)(2.4,15.05)(1.65,14.6)(1.36,14.5)(1.5,13.7)(1.07,13.5)(2.96,13.8)(3.4,14.2)(3.7,13.5)(4.1,14.8)(4.55,14.35)(4.26,13.4)(4.99,14.1)(5.1,15.6)(5.3,16.5)(4.8,17.3)(5.7,17.9)(2.52,12.5)(2.1,12.1)(2.8,11.5)(3.1,11.8)(3.5,11.0)(2.7,10.6)(2.23,10.0)(3.3,10.1)(3.8,9.86)(4.4,9.44)(5.1,9.58)(5.6,9.02)(5.9,8.45)(2.4,9.1)(2.52,8.7)(3.1,7.9)(2.8,7.5)(3.4,7.3)(3.7,7.1)(4.55,7.3)(5.3,7.9)(5.9,7.2)(6.1,7.1)(6.6,7.8)(6.9,7.1)(7.0,8.45)(7.6,9.2)(7.9,8.6)(8.3,8.45)(2.23,6.2)(3.7,5.8)(3.9,5.5)(5.0,6.1)(5.5,5.8)(5.3,5.1)(6.5,5.5)(6.9,5.1)(7.3,6.1)(7.5,7.1)(8.0,6.2)(8.9,6.6)(9.5,6.2)(9.2,5.7)(8.9,5.1)(9.9,4.4)(10.8,4.1)(11.1,4.4)(10.5,6.1)(11.5,7.8)(11.8,8.45)(12.2,8.3)(12.7,9.0)(12.1,9.0)(11.7,7.5)(13.5,10.4)(14.4,8.45)(15.0,8.45)(15.7,7.9)(16.1,5.0)(17.7,4.4)(18.2,3.4)(18.3,5.7)(5.7,2.9)(7.9,3.7)(5.9,1.9)(6.9,1.6)(7.45,0.7)(9.9,2.9)(10.4,1.6)(11.5,2.3)(14.3,2.7)(15.0,4.0)(15.4,2.3)(4.26,0.4)(6.0,0.4)(3.4,19.85)(2.67,19.3)(4.26,18.9)(4.55,19.3)(5.4,18.2)(6.7,18.6)(7.0,17.6)(8.0,16.6)(8.6,17.2)(9.5,15.8)(10.5,17.2)(9.8,13.5)(9.9,12.8)(10.1,13.5)(10.4,11.8)(8.6,15.9)(7.3,14.5)(7.6,13.4)(7.0,12.7)(6.4,12.3)(8.6,12.3)(8.9,13.2)(10.5,10.4)(13.1,15.8)(15.0,13.5)(16.7,9.6)(18.2,8.9)(18.5,8.3)(11.2,9.0)
};
\addlegendentry{RH>=90\%,N=273,\Rsq=0.33}
\addplot[fitsty, color=black] coordinates {(0.23,17.20)(1.5,15.00)(3,12.95)(4.5,11.36)(6,10.13)(8,8.91)(10,8.04)(12.5,7.29)(15,6.81)(20,6.28)(25,6.06)(30,5.96)(37.7,5.91)};
\addlegendentry{Y = 11.76 * exp(-0.17 * X) + 5.89}
\end{axis}
\end{tikzpicture}
\end{document}
